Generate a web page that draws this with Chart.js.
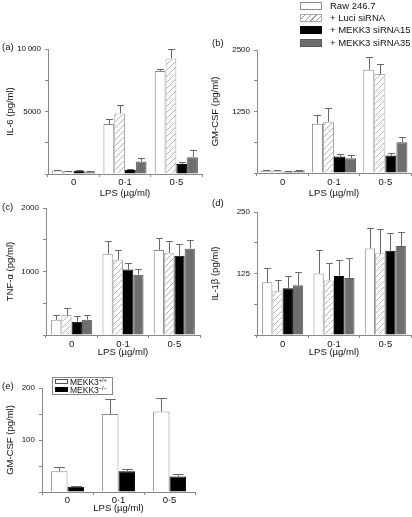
<!DOCTYPE html>
<html>
<head>
<meta charset="utf-8">
<script src="https://cdn.jsdelivr.net/npm/chart.js@4.4.0/dist/chart.umd.min.js"></script>
<style>
  body { margin: 0; background: #fff; }
  #fig { position: relative; width: 412px; height: 517px; overflow: hidden;
         font-family: 'Liberation Sans', Arial, sans-serif; color: #111; }
  #fig canvas { position: absolute; }
  .tag { position: absolute; font-size: 9.5px; line-height: 10px; }
  #legendTop { position: absolute; left: 300px; top: 0; font-size: 9.5px; }
  #legendTop .row { height: 12.2px; line-height: 12.2px; white-space: nowrap; }
  #legendTop .sw { display: inline-block; width: 20px; height: 6px; margin-right: 8px; vertical-align: -1px; }
  #legendE { position: absolute; left: 52px; top: 377px; width: 59px; height: 16px;
             border: 1px solid #888; font-size: 8.5px; line-height: 8px; }
  #legendE .row { white-space: nowrap; padding-left: 2px; }
  #legendE .sw { display: inline-block; width: 11px; height: 3px; margin-right: 2px; vertical-align: 1px; }
  #legendE sup { font-size: 5.5px; vertical-align: 3px; line-height: 0; }
</style>
</head>
<body>
<div id="fig">
  <canvas id="chartA"></canvas>
  <canvas id="chartB"></canvas>
  <canvas id="chartC"></canvas>
  <canvas id="chartD"></canvas>
  <canvas id="chartE"></canvas>
  <div class="tag" style="left:2px;top:42px">(a)</div>
  <div class="tag" style="left:212px;top:38px">(b)</div>
  <div class="tag" style="left:2px;top:202px">(c)</div>
  <div class="tag" style="left:212px;top:198px">(d)</div>
  <div class="tag" style="left:2px;top:381px">(e)</div>
  <div id="legendTop"></div>
  <div id="legendE"></div>
</div>
<script>
// Categorias y series
const lpsLabels = ['0', '0·1', '0·5'];
const seriesNames = ['Raw 246.7', '+ Luci siRNA', '+ MEKK3 siRNA15', '+ MEKK3 siRNA35'];
const genotypeNames = ['MEKK3', 'MEKK3'];
const genotypeSup = ['+/+', '−/−'];

// (a) IL-6: Raw, Luci, siRNA15, siRNA35
const il6Values = [[280, 4000, 8250], [220, 4850, 9250], [260, 330, 800], [210, 1000, 1350]];
const il6Errors = [[40, 380, 170], [30, 700, 750], [30, 70, 180], [20, 300, 550]];
const il6Ticks = ['', '', '5000', '', '10\u2009000'];

// (b) GM-CSF
const gmValues = [[40, 1000, 2100], [45, 1040, 2010], [25, 333, 355], [45, 300, 625]];
const gmErrors = [[15, 185, 265], [25, 290, 205], [10, 57, 55], [10, 65, 105]];
const gmTicks = ['', '', '1250', '', '2500'];

// (c) TNF-alfa
const tnfValues = [[240, 1280, 1340], [315, 1185, 1295], [210, 1030, 1250], [240, 950, 1360]];
const tnfErrors = [[80, 195, 185], [105, 160, 180], [85, 105, 185], [80, 85, 140]];
const tnfTicks = ['', '', '1000', '', '2000'];

// (d) IL-1beta
const il1Values = [[107, 125, 176], [89, 111, 166], [95, 120, 171], [101, 116, 181]];
const il1Errors = [[30, 48, 41], [22, 35, 50], [25, 32, 36], [27, 40, 29]];
const il1Ticks = ['', '', '125', '', '250'];

// (e) GM-CSF, MEKK3+/+ y MEKK3-/-
const koValues = [[40, 150, 155], [10, 40, 30]];
const koErrors = [[8, 28, 26], [2, 5, 4]];
const koTicks = ['', '', '100', '', '200'];

Chart.defaults.font.family = "'Liberation Sans', Arial, sans-serif";
Chart.defaults.color = '#111';

const axisGray = '#888';
const errorGray = '#666';

// Patron rayado para "+ Luci siRNA"
function hatchPattern(ctx) {
  const c = document.createElement('canvas');
  c.width = 6; c.height = 6;
  const g = c.getContext('2d');
  g.fillStyle = '#fff';
  g.fillRect(0, 0, 6, 6);
  g.strokeStyle = '#a0a0a0';
  g.lineWidth = 0.8;
  g.beginPath();
  g.moveTo(0, 6); g.lineTo(6, 0);
  g.moveTo(-1, 1); g.lineTo(1, -1);
  g.moveTo(5, 7); g.lineTo(7, 5);
  g.stroke();
  return ctx.createPattern(c, 'repeat');
}

// Barras de error (solo hacia arriba)
const errorBars = {
  id: 'errorBars',
  afterDatasetsDraw(chart) {
    const ctx = chart.ctx;
    const yScale = chart.scales.y;
    chart.data.datasets.forEach((ds, i) => {
      if (!ds.errors) return;
      const meta = chart.getDatasetMeta(i);
      meta.data.forEach((bar, j) => {
        const top = Math.round(yScale.getPixelForValue(ds.data[j] + ds.errors[j])) + 0.5;
        const x = Math.round(bar.x) + 0.5;
        const cap = bar.width * 0.32;
        ctx.save();
        ctx.strokeStyle = errorGray;
        ctx.lineWidth = 1;
        ctx.beginPath();
        ctx.moveTo(x, bar.y);
        ctx.lineTo(x, top);
        ctx.moveTo(x - cap, top);
        ctx.lineTo(x + cap, top);
        ctx.stroke();
        ctx.restore();
      });
    });
  }
};

function makePanel(id, box, yTitle, yMax, step, tickLabels, datasets, xOpts) {
  const canvas = document.getElementById(id);
  const cy = box.top - 10;
  canvas.width = box.right + 2 - box.cx;
  canvas.height = box.bottom + xOpts.xh - cy;
  canvas.style.left = box.cx + 'px';
  canvas.style.top = cy + 'px';

  return new Chart(canvas.getContext('2d'), {
    type: 'bar',
    data: { labels: lpsLabels, datasets: datasets },
    options: {
      responsive: false,
      animation: false,
      layout: { padding: { top: 10, right: 2, left: 0, bottom: 0 } },
      plugins: { legend: { display: false }, tooltip: { enabled: false } },
      scales: {
        x: {
          grid: { drawOnChartArea: false, tickLength: 3, color: axisGray, offset: true },
          border: { color: axisGray },
          ticks: { font: { size: 9.5 }, color: '#111', padding: xOpts.labelPad, maxRotation: 0, autoSkip: false },
          title: { display: true, text: 'LPS (µg/ml)', font: { size: 9.5 }, color: '#111',
                   padding: { top: 0, bottom: xOpts.titlePad } },
          afterFit: s => { s.height = xOpts.xh; s.paddingLeft = 0; s.paddingRight = 0; }
        },
        y: {
          min: 0, max: yMax,
          grid: { drawOnChartArea: false, tickLength: 3, color: axisGray },
          border: { color: axisGray },
          ticks: { stepSize: step, autoSkip: false, font: { size: 8 }, color: '#111', padding: 4,
                   callback: (v, i) => tickLabels[i] },
          title: { display: true, text: yTitle, font: { size: 9.5 }, color: '#111', padding: { top: 5, bottom: 0 } },
          afterFit: s => { s.width = box.left - box.cx; s.paddingTop = 0; s.paddingBottom = 0; }
        }
      }
    },
    plugins: [errorBars]
  });
}

function fourSeries(id, values, errors, catPct) {
  const ctx = document.getElementById(id).getContext('2d');
  const fills = ['#fff', hatchPattern(ctx), '#000', '#6e6e6e'];
  const borders = ['#8a8a8a', '#aaa', '#000', '#5a5a5a'];
  return seriesNames.map((name, i) => ({
    label: name,
    data: values[i],
    errors: errors[i],
    backgroundColor: fills[i],
    borderColor: borders[i],
    borderWidth: 1,
    barPercentage: 1,
    categoryPercentage: catPct
  }));
}

makePanel('chartA', { cx: 0, left: 48, top: 49, right: 202, bottom: 174 },
  'IL-6 (pg/ml)', 10000, 2500, il6Ticks,
  fourSeries('chartA', il6Values, il6Errors, 0.84), { xh: 28, labelPad: 0, titlePad: 3 });

makePanel('chartB', { cx: 205, left: 257, top: 50, right: 411, bottom: 173 },
  'GM-CSF (pg/ml)', 2500, 625, gmTicks,
  fourSeries('chartB', gmValues, gmErrors, 0.86), { xh: 29, labelPad: 1, titlePad: 3 });

makePanel('chartC', { cx: 0, left: 46, top: 208, right: 200, bottom: 335 },
  'TNF-α (pg/ml)', 2000, 500, tnfTicks,
  fourSeries('chartC', tnfValues, tnfErrors, 0.8), { xh: 26, labelPad: 1, titlePad: 3 });

makePanel('chartD', { cx: 205, left: 257, top: 212, right: 411, bottom: 335 },
  'IL-1β (pg/ml)', 250, 62.5, il1Ticks,
  fourSeries('chartD', il1Values, il1Errors, 0.8), { xh: 26, labelPad: 1, titlePad: 3 });

makePanel('chartE', { cx: 0, left: 42, top: 388, right: 195, bottom: 492 },
  'GM-CSF (pg/ml)', 200, 50, koTicks,
  genotypeNames.map((name, i) => ({
    label: name + genotypeSup[i],
    data: koValues[i],
    errors: koErrors[i],
    backgroundColor: ['#fff', '#000'][i],
    borderColor: ['#8a8a8a', '#000'][i],
    borderWidth: 1,
    barPercentage: 1,
    categoryPercentage: 0.65
  })), { xh: 25, labelPad: 0, titlePad: 3 });

// Leyendas en HTML
const swatchStyles = [
  'background:#fff;border:1px solid #8a8a8a',
  'background:repeating-linear-gradient(-45deg,#fff 0 3px,#a0a0a0 3px 4px);border:1px solid #aaa',
  'background:#000;border:1px solid #000',
  'background:#6e6e6e;border:1px solid #5a5a5a'
];
document.getElementById('legendTop').innerHTML = seriesNames.map((name, i) =>
  `<div class="row"><span class="sw" style="${swatchStyles[i]}"></span>${name}</div>`).join('');

const koSwatches = ['background:#fff;border:1px solid #555', 'background:#000;border:1px solid #000'];
document.getElementById('legendE').innerHTML = genotypeNames.map((name, i) =>
  `<div class="row"><span class="sw" style="${koSwatches[i]}"></span>${name}<sup>${genotypeSup[i]}</sup></div>`).join('');
</script>
</body>
</html>
